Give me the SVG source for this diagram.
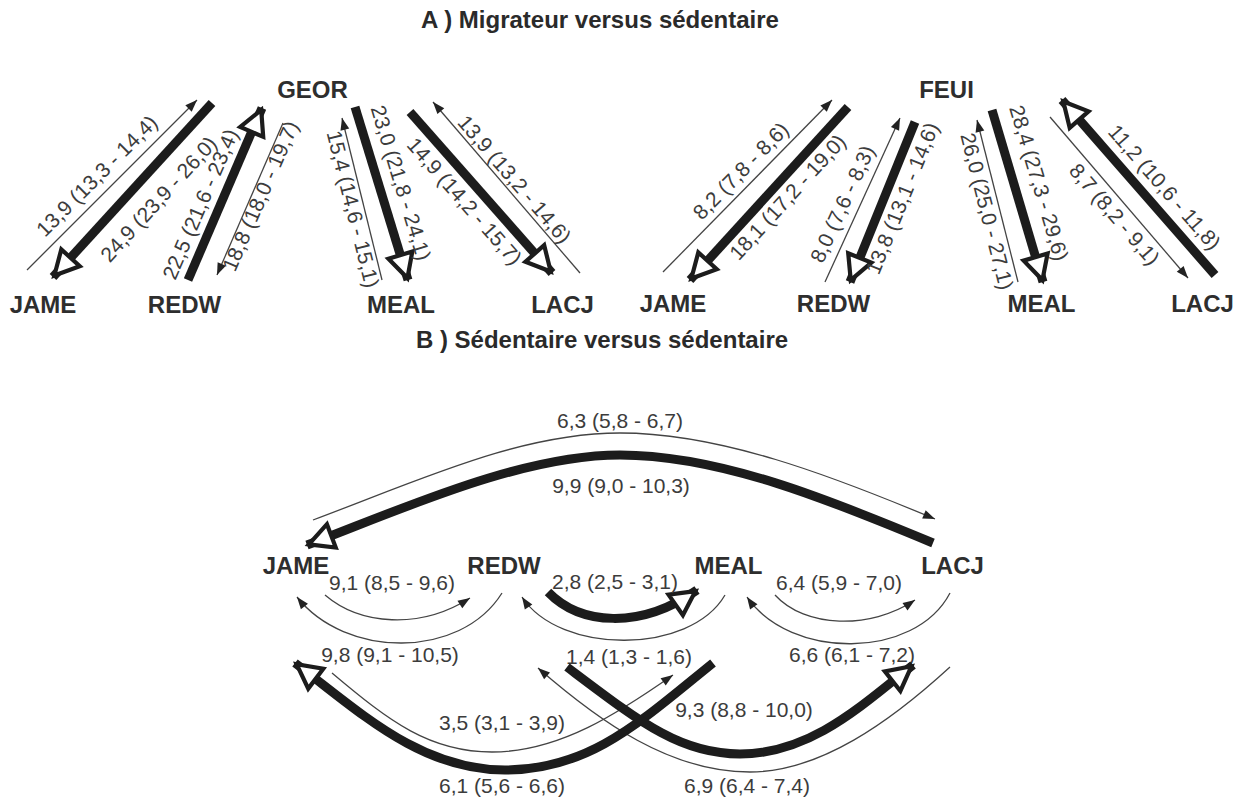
<svg xmlns="http://www.w3.org/2000/svg" width="1248" height="801" viewBox="0 0 1248 801">
<style>
.title{font-family:"Liberation Sans",Arial,sans-serif;font-weight:bold;font-size:24px;fill:#2a2a2a;text-anchor:middle}
.node{font-family:"Liberation Sans",Arial,sans-serif;font-weight:bold;font-size:24px;fill:#2e2e2e;text-anchor:middle}
.lbl{font-family:"Liberation Sans",Arial,sans-serif;font-size:21px;fill:#3c3c3c;text-anchor:middle}
.thick{fill:none;stroke:#1c1c1c;stroke-width:9;marker-end:url(#open)}
.thin{fill:none;stroke:#444;stroke-width:1.3;marker-end:url(#tri)}
</style>
<defs>
<marker id="open" markerUnits="userSpaceOnUse" markerWidth="40" markerHeight="40" viewBox="-30 -20 40 40" refX="0" refY="0" orient="auto" overflow="visible">
<path d="M-2,0 L-26,-12.5 L-26,12.5 Z" fill="#fff" stroke="#1c1c1c" stroke-width="4.2"/>
</marker>
<marker id="tri" markerUnits="userSpaceOnUse" markerWidth="20" markerHeight="20" viewBox="-15 -10 20 20" refX="0" refY="0" orient="auto" overflow="visible">
<path d="M0,0 L-12,-4.5 L-12,4.5 Z" fill="#222"/>
</marker>
</defs>
<rect width="1248" height="801" fill="#fff"/>
<text class="title" x="600" y="28">A ) Migrateur versus sédentaire</text>
<text class="title" x="602" y="348">B ) Sédentaire versus sédentaire</text>

<g id="connectors">
<!-- Panel A left -->
<g><path class="thin" d="M27,270 L197,100"/><text class="lbl" transform="translate(102,181) rotate(-45)">13,9 (13,3 - 14,4)</text></g>
<g><path class="thick" d="M212,103 L53,277"/><text class="lbl" transform="translate(164,204) rotate(-47.6)">24,9 (23,9 - 26,0)</text></g>
<g><path class="thick" d="M188,280 L262,108"/><text class="lbl" transform="translate(207,207) rotate(-66.7)">22,5 (21,6 - 23,4)</text></g>
<g><path class="thin" d="M283,123 L217,275"/><text class="lbl" transform="translate(267,199) rotate(-66.5)">18,8 (18,0 - 19,7)</text></g>
<g><path class="thick" d="M355,107 L408,280"/><text class="lbl" transform="translate(394,185) rotate(73)">23,0 (21,8 - 24,1)</text></g>
<g><path class="thin" d="M382,280 L342,118"/><text class="lbl" transform="translate(346,211) rotate(76)">15,4 (14,6 - 15,1)</text></g>
<g><path class="thick" d="M410,112 L552,273"/><text class="lbl" transform="translate(459,206) rotate(48.6)">14,9 (14,2 - 15,7)</text></g>
<g><path class="thin" d="M580,273 L433,102"/><text class="lbl" transform="translate(509,184) rotate(49.3)">13,9 (13,2 - 14,6)</text></g>
<!-- Panel A right -->
<g><path class="thin" d="M663,272 L832,100"/><text class="lbl" transform="translate(746,176) rotate(-45.5)">8,2 (7,8 - 8,6)</text></g>
<g><path class="thick" d="M848,107 L690,280"/><text class="lbl" transform="translate(793,202) rotate(-47.6)">18,1 (17,2 - 19,0)</text></g>
<g><path class="thin" d="M825,282 L900,118"/><text class="lbl" transform="translate(849,207) rotate(-65.4)">8,0 (7,6 - 8,3)</text></g>
<g><path class="thick" d="M915,122 L850,282"/><text class="lbl" transform="translate(909,201) rotate(-67.9)">13,8 (13,1 - 14,6)</text></g>
<g><path class="thick" d="M992,110 L1043,282"/><text class="lbl" transform="translate(1032,185) rotate(73.5)">28,4 (27,3 - 29,6)</text></g>
<g><path class="thin" d="M1018,282 L977,120"/><text class="lbl" transform="translate(980,213) rotate(75.8)">26,0 (25,0 - 27,1)</text></g>
<g><path class="thin" d="M1050,117 L1188,278"/><text class="lbl" transform="translate(1109,219) rotate(49.4)">8,7 (8,2 - 9,1)</text></g>
<g><path class="thick" d="M1215,275 L1062,100"/><text class="lbl" transform="translate(1159,192) rotate(48.8)">11,2 (10,6 - 11,8)</text></g>
<!-- Panel B -->
<g><path class="thin" d="M313,520 C420,480 520,433 620,433 C720,433 830,475 935,519"/><text class="lbl" x="620" y="428">6,3 (5,8 - 6,7)</text></g>
<g><path class="thick" d="M933,543 C830,500 720,455 620,455 C520,455 400,510 307,545"/><text class="lbl" x="621" y="493">9,9 (9,0 - 10,3)</text></g>
<g><path class="thin" d="M325,595 C360,625 420,630 470,598"/><text class="lbl" x="392" y="590">9,1 (8,5 - 9,6)</text></g>
<g><path class="thin" d="M502,593 C460,660 345,658 297,597"/><text class="lbl" x="390" y="662">9,8 (9,1 - 10,5)</text></g>
<g><path class="thick" d="M548,592 C580,625 640,630 697,590"/><text class="lbl" x="615" y="589">2,8 (2,5 - 3,1)</text></g>
<g><path class="thin" d="M725,595 C690,655 560,655 522,597"/><text class="lbl" x="629" y="664">1,4 (1,3 - 1,6)</text></g>
<g><path class="thin" d="M775,595 C805,628 870,630 915,600"/><text class="lbl" x="839" y="590">6,4 (5,9 - 7,0)</text></g>
<g><path class="thin" d="M950,593 C915,660 790,660 747,597"/><text class="lbl" x="852" y="662">6,6 (6,1 - 7,2)</text></g>
<g><path class="thin" d="M332,673 C390,722 430,752 492,752 C560,752 620,712 673,675"/><text class="lbl" x="502" y="730">3,5 (3,1 - 3,9)</text></g>
<g><path class="thin" d="M950,667 C890,722 820,772 750,772 C670,772 600,722 538,668"/><text class="lbl" x="747" y="793">6,9 (6,4 - 7,4)</text></g>
<g><path class="thick" d="M713,663 C640,722 590,770 505,770 C420,770 360,712 295,663"/><text class="lbl" x="502" y="793">6,1 (5,6 - 6,6)</text></g>
<g><path class="thick" d="M567,667 C640,722 680,754 740,754 C810,754 860,707 913,665"/><text class="lbl" x="744" y="717">9,3 (8,8 - 10,0)</text></g>
</g>

<g id="A-GEOR"><text class="node" x="312.5" y="98">GEOR</text></g>
<g id="A-JAME1"><text class="node" x="43" y="313">JAME</text></g>
<g id="A-REDW1"><text class="node" x="184.5" y="313">REDW</text></g>
<g id="A-MEAL1"><text class="node" x="401" y="313">MEAL</text></g>
<g id="A-LACJ1"><text class="node" x="562.5" y="313">LACJ</text></g>
<g id="A-FEUI"><text class="node" x="946.5" y="98">FEUI</text></g>
<g id="A-JAME2"><text class="node" x="673" y="312">JAME</text></g>
<g id="A-REDW2"><text class="node" x="833.5" y="312">REDW</text></g>
<g id="A-MEAL2"><text class="node" x="1041.5" y="312">MEAL</text></g>
<g id="A-LACJ2"><text class="node" x="1202.5" y="312">LACJ</text></g>
<g id="B-JAME"><text class="node" x="296" y="574">JAME</text></g>
<g id="B-REDW"><text class="node" x="504" y="574">REDW</text></g>
<g id="B-MEAL"><text class="node" x="728.5" y="574">MEAL</text></g>
<g id="B-LACJ"><text class="node" x="952.5" y="574">LACJ</text></g>
</svg>
